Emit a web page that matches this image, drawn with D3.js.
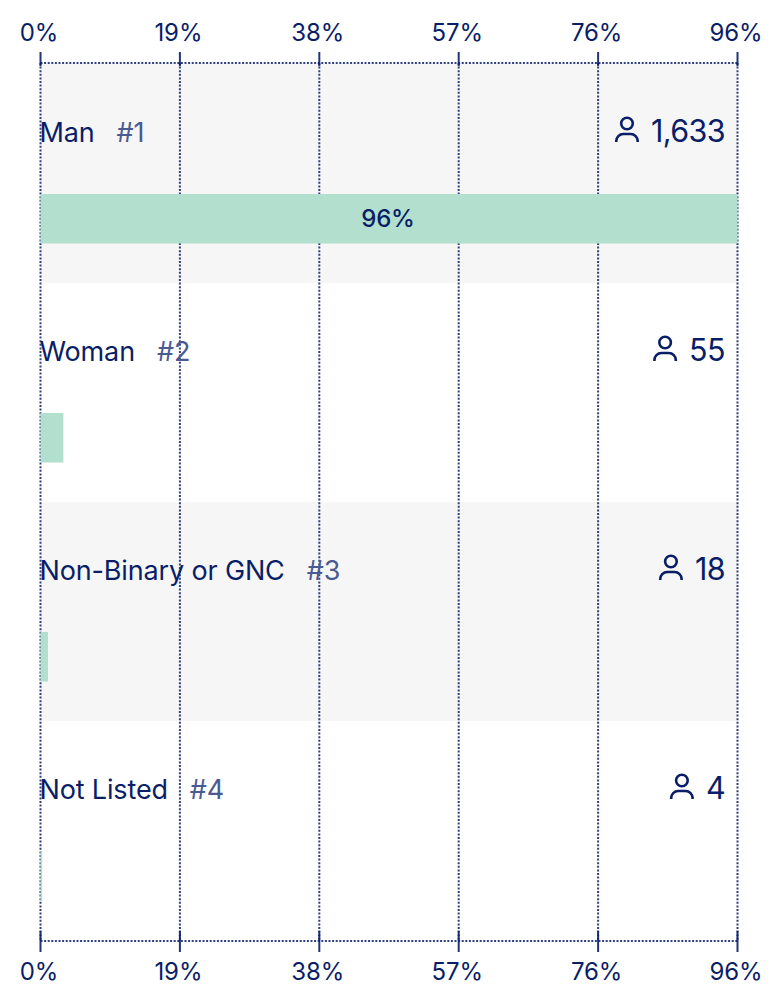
<!DOCTYPE html>
<html><head><meta charset="utf-8">
<script src="https://cdn.jsdelivr.net/npm/d3@7"></script>
<style>html,body{margin:0;padding:0;background:#fff}svg{display:block}text{font-family:Inter,"Liberation Sans",sans-serif;fill:#0a1e68}</style>
</head><body><div id="c"></div><script>
const categories=["Man","Woman","Non-Binary or GNC","Not Listed"];
const ranks=["#1","#2","#3","#4"];
const counts=[1633,55,18,4];
const shares=[96,3.15,1.03,0.23];
const tickValues=[0,19.2,38.4,57.6,76.8,96];
const tickLabels=["0%","19%","38%","57%","76%","96%"];
const W=776,H=1000,navy="#0a1e68";
const svg=d3.select("#c").append("svg").attr("width",W).attr("height",H);
const x=d3.scaleLinear().domain([0,96]).range([40.5,737.5]);
const y=d3.scaleBand().domain(categories).range([64,940]);
const bandH=y.bandwidth();
svg.selectAll("rect.band").data(categories).join("rect").attr("class","band")
 .attr("x",x(0)).attr("width",x(96)-x(0)).attr("y",d=>y(d)).attr("height",bandH)
 .attr("fill",(d,i)=>i%2==0?"#f6f6f7":"#fff");
// grid
svg.selectAll("line.grid").data(tickValues).join("line").attr("class","grid")
 .attr("x1",d=>x(d)).attr("x2",d=>x(d)).attr("y1",63).attr("y2",941)
 .attr("stroke",navy).attr("stroke-opacity",.85).attr("stroke-width",2).attr("stroke-dasharray","2 1.6");
// bars
svg.selectAll("rect.bar").data(categories).join("rect").attr("class","bar")
 .attr("x",x(0)).attr("y",d=>y(d)+130).attr("height",49.5)
 .attr("width",(d,i)=>x(shares[i])-x(0)).attr("fill","#b2dfce");
svg.append("text").attr("x",(x(0)+x(96))/2-1).attr("y",y(categories[0])+163).attr("text-anchor","middle")
 .attr("font-size",24).attr("font-weight",500).attr("letter-spacing","-0.2").text(shares[0]+"%");
// axes
[{y:63,y1:52,y2:66,ly:41},{y:941,y1:931,y2:952,ly:980}].forEach(a=>{
 const g=svg.append("g");
 g.append("line").attr("x1",x(0)).attr("x2",x(96)).attr("y1",a.y).attr("y2",a.y)
  .attr("stroke",navy).attr("stroke-opacity",.85).attr("stroke-width",2).attr("stroke-dasharray","2 1.6");
 g.selectAll("line.t").data(tickValues).join("line").attr("class","t")
  .attr("x1",d=>x(d)).attr("x2",d=>x(d)).attr("y1",a.y1).attr("y2",a.y2)
  .attr("stroke",navy).attr("stroke-opacity",.9).attr("stroke-width",2);
 g.selectAll("text").data(tickValues).join("text").attr("x",d=>x(d)-1.5).attr("y",a.ly)
  .attr("text-anchor","middle").attr("font-size",24).attr("letter-spacing","-0.1").text((d,i)=>tickLabels[i]);
});
// row labels
categories.forEach((c,i)=>{
 const ty=y(c)+78;
 const t=svg.append("text").attr("x",x(0)-1).attr("y",ty).attr("font-size",27).attr("letter-spacing","-0.15").text(c);
 const w=t.node().getComputedTextLength();
 svg.append("text").attr("x",x(0)+w+21).attr("y",ty).attr("font-size",27).attr("letter-spacing","-0.15").style("fill","#4a5a92").text(ranks[i]);
 const n=svg.append("text").attr("x",725).attr("y",ty).attr("text-anchor","end").attr("font-size",30.5).attr("letter-spacing","-0.6").text(d3.format(",")(counts[i]));
 const nw=n.node().getComputedTextLength();
 const g=svg.append("g").attr("transform",`translate(${725-nw-24},${ty})`).attr("fill","none").attr("stroke",navy).attr("stroke-width",2.6);
 g.append("circle").attr("cx",0).attr("cy",-18.5).attr("r",5.8);
 g.append("path").attr("d","M-10.7,0V-1A7,7 0 0 1 -3.7,-8H3.7A7,7 0 0 1 10.7,-1V0");
});
</script></body></html>
